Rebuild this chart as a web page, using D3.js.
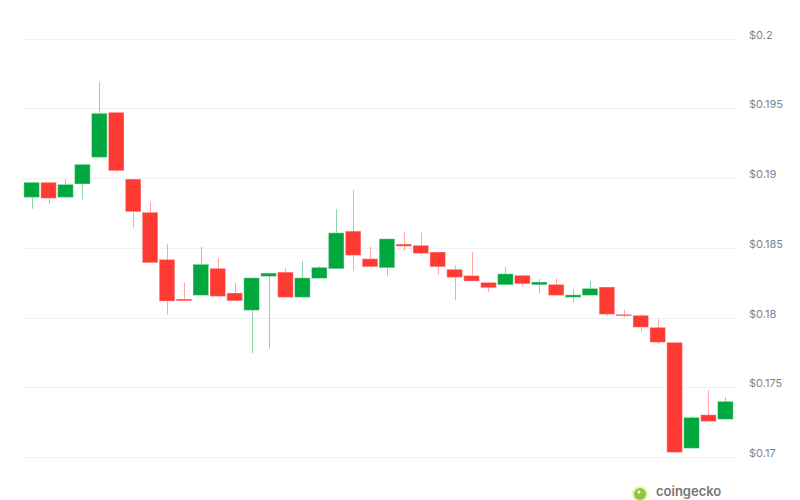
<!DOCTYPE html>
<html lang="en">
<head>
    <meta charset="UTF-8">
    <title>Price Candles</title>
    <script src="https://d3js.org/d3.v7.min.js"></script>
    <style>
        body { margin: 0; background: #fff; }
        #chart { width: 800px; height: 500px; overflow: hidden; }
        .grid line { stroke: #eef0f2; stroke-width: 1px; }
        .axis text {
            font-family: "Inter", "Open Sans", Arial, sans-serif;
            font-size: 11px;
            fill: #7d8590;
        }
        .wick { stroke-width: 1px; opacity: 0.45; }
        .body { stroke-width: 1px; stroke-opacity: 0.35; }
    </style>
</head>
<body>
    <div id="chart"></div>

    <script>
        // candle values (USD)
        const opens  = [0.18862, 0.18970, 0.18862, 0.18958, 0.19149, 0.19472, 0.18993, 0.18755, 0.18417, 0.18133,
                        0.18159, 0.18353, 0.18176, 0.18052, 0.18295, 0.18326, 0.18145, 0.18281, 0.18350, 0.18620,
                        0.18422, 0.18357, 0.18527, 0.18518, 0.18470, 0.18346, 0.18301, 0.18252, 0.18235, 0.18303,
                        0.18235, 0.18238, 0.18145, 0.18159, 0.18219, 0.18023, 0.18016, 0.17930, 0.17822, 0.17062,
                        0.17303, 0.17270];
        const closes = [0.18970, 0.18855, 0.18955, 0.19099, 0.19465, 0.19053, 0.18759, 0.18393, 0.18118, 0.18120,
                        0.18382, 0.18152, 0.18120, 0.18285, 0.18319, 0.18145, 0.18285, 0.18360, 0.18608, 0.18446,
                        0.18364, 0.18565, 0.18511, 0.18460, 0.18364, 0.18288, 0.18262, 0.18214, 0.18314, 0.18242,
                        0.18255, 0.18159, 0.18163, 0.18209, 0.18023, 0.18013, 0.17930, 0.17822, 0.17033, 0.17284,
                        0.17255, 0.17399];
        const highs  = [0.18970, 0.18970, 0.18991, 0.19099, 0.19692, 0.19472, 0.18993, 0.18831, 0.18525, 0.18252,
                        0.18506, 0.18425, 0.18247, 0.18290, 0.18319, 0.18353, 0.18405, 0.18369, 0.18778, 0.18915,
                        0.18506, 0.18565, 0.18613, 0.18608, 0.18470, 0.18374, 0.18470, 0.18252, 0.18364, 0.18303,
                        0.18276, 0.18281, 0.18204, 0.18262, 0.18219, 0.18054, 0.18025, 0.17989, 0.17822, 0.17298,
                        0.17478, 0.17430];
        const lows   = [0.18780, 0.18814, 0.18862, 0.18848, 0.19149, 0.19039, 0.18644, 0.18393, 0.18021, 0.18120,
                        0.18159, 0.18152, 0.18120, 0.17743, 0.17776, 0.18138, 0.18145, 0.18281, 0.18350, 0.18336,
                        0.18364, 0.18300, 0.18479, 0.18446, 0.18307, 0.18125, 0.18262, 0.18185, 0.18235, 0.18221,
                        0.18174, 0.18159, 0.18111, 0.18159, 0.18011, 0.18001, 0.17898, 0.17810, 0.17033, 0.17062,
                        0.17255, 0.17270];
        const tickValues = [0.17, 0.175, 0.18, 0.185, 0.19, 0.195, 0.2];

        const up = "#00a83e";
        const down = "#ff3a33";

        const width = 800, height = 500;
        const candles = opens.map((o, i) => ({ i, o, c: closes[i], h: highs[i], l: lows[i] }));

        const svg = d3.select("#chart").append("svg")
            .attr("width", width)
            .attr("height", height);

        const x = d3.scaleBand()
            .domain(candles.map(d => d.i))
            .range([22.5, 734.5])
            .padding(0.08);

        const y = d3.scaleLinear()
            .domain([0.17, 0.2])
            .range([457, 38.7]);

        // horizontal grid
        svg.append("g")
            .attr("class", "grid")
            .selectAll("line")
            .data(tickValues)
            .enter().append("line")
            .attr("x1", 22)
            .attr("x2", 735)
            .attr("y1", d => Math.round(y(d)) + 0.5)
            .attr("y2", d => Math.round(y(d)) + 0.5);

        // right axis labels
        const axis = d3.axisRight(y)
            .tickValues(tickValues)
            .tickSize(0)
            .tickPadding(0)
            .tickFormat(d => "$" + d3.format("~g")(d));
        svg.append("g")
            .attr("class", "axis")
            .attr("transform", "translate(749,-4)")
            .call(axis)
            .call(g => g.select(".domain").remove());

        const color = d => d.c >= d.o ? up : down;

        // wicks
        svg.append("g")
            .selectAll(".wick")
            .data(candles)
            .enter().append("line")
            .attr("class", "wick")
            .attr("stroke", color)
            .attr("x1", d => Math.round(x(d.i) + x.bandwidth() / 2) + 0.5)
            .attr("x2", d => Math.round(x(d.i) + x.bandwidth() / 2) + 0.5)
            .attr("y1", d => y(d.h))
            .attr("y2", d => y(d.l));

        // bodies
        svg.append("g")
            .selectAll(".body")
            .data(candles)
            .enter().append("rect")
            .attr("class", "body")
            .attr("fill", color)
            .attr("stroke", "#fff")
            .attr("x", d => x(d.i))
            .attr("width", x.bandwidth())
            .attr("y", d => y(Math.max(d.o, d.c)))
            .attr("height", d => Math.max(1.5, Math.abs(y(d.o) - y(d.c))));

        // watermark at the bottom
        const mark = svg.append("g").attr("transform", "translate(640,494)");
        mark.append("circle").attr("r", 8).attr("fill", "#f7f0a6");
        mark.append("circle").attr("r", 6).attr("fill", "#8dc647");
        mark.append("circle").attr("cx", -1).attr("cy", -2).attr("r", 1.5).attr("fill", "#fff");
        mark.append("text")
            .attr("x", 16)
            .attr("y", 2)
            .attr("font-family", "Inter, Arial, sans-serif")
            .attr("font-size", 13)
            .attr("font-weight", 600)
            .attr("fill", "#767676")
            .text("coingecko");
    </script>
</body>
</html>
